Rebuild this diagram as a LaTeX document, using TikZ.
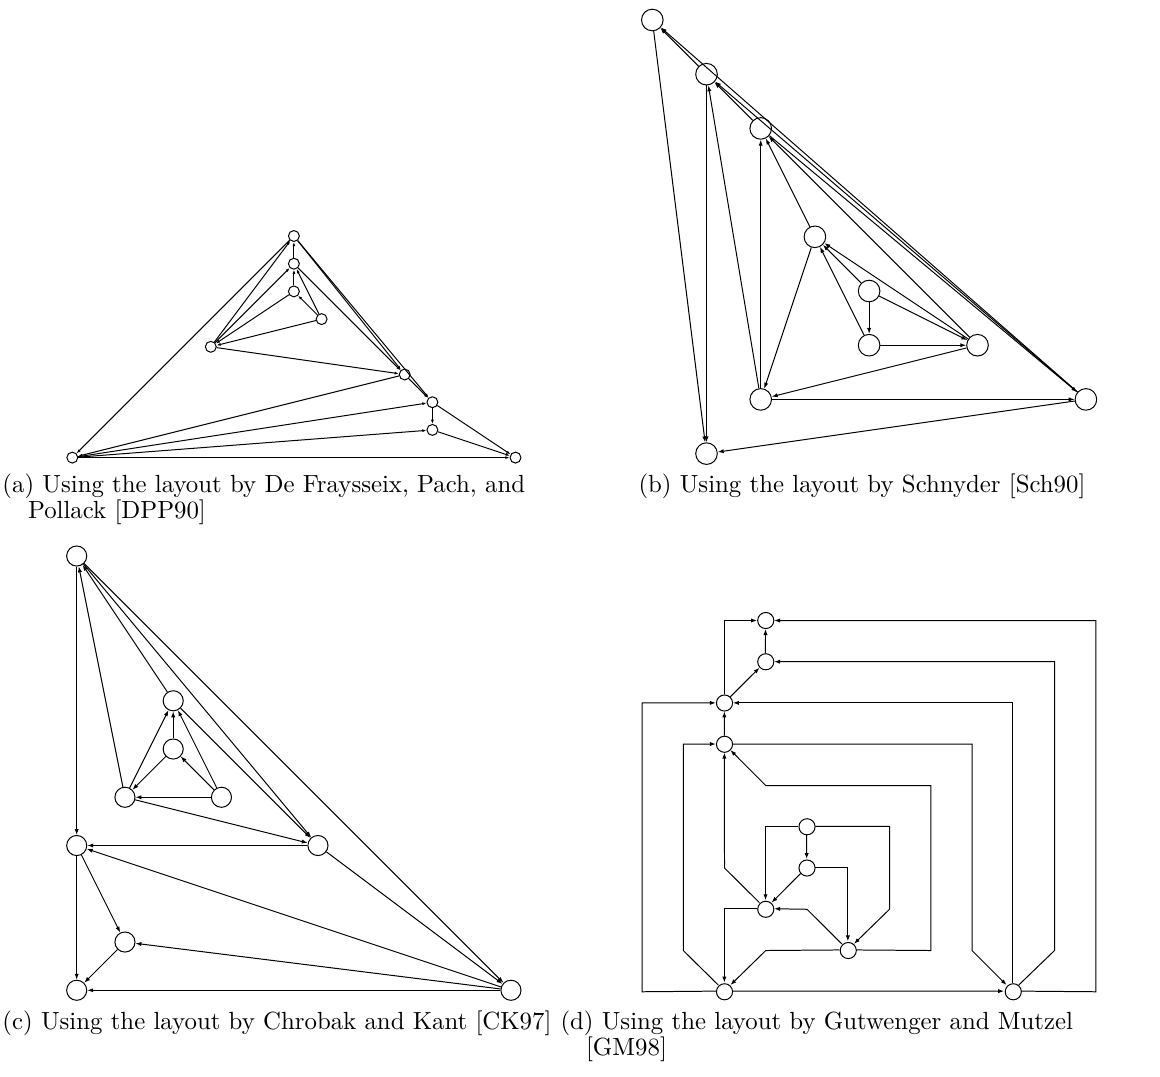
\documentclass[tikz,border=0pt]{standalone}
\usepackage{tikz}
\usetikzlibrary{arrows.meta}

% the directed graph shared by all four layouts (source/target)
\newcommand\arclist{2/1,3/2,3/1,10/1,10/2,10/3,4/10,9/3,9/4,4/3,7/4,8/4,5/8,5/6,5/7,6/7,6/8,8/7,7/9,8/9,9/10}

\begin{document}
\begin{tikzpicture}[
  x=0.403pt, y=-0.403pt,
  vtx/.style={circle, draw, fill=white, inner sep=0pt, line width=0.4pt},
  edge/.style={line width=0.4pt, -{Latex[length=2.4pt, width=1.7pt]}},
  tiny edge/.style={line width=0.4pt, -{Latex[length=1.7pt, width=1.2pt]}},
  captext/.style={inner sep=0pt, anchor=base west, font=\fontsize{10}{10.3}\selectfont},
]
\useasboundingbox (0,0) rectangle (1160,1076);

% (a) De Fraysseix, Pach, Pollack
\begin{scope}[shift={(72.3,236)}, scale=27.7, every node/.style={vtx, minimum size=4.4pt}]
  \node (a9) at (8,0) {};
  \node (a7) at (8,1) {};
  \node (a6) at (8,2) {};
  \node (a5) at (9,3) {};
  \node (a8) at (5,4) {};
  \node (a4) at (12,5) {};
  \node (a3) at (13,6) {};
  \node (a2) at (13,7) {};
  \node (a10) at (0,8) {};
  \node (a1) at (16,8) {};
\end{scope}
\foreach \s/\t in \arclist { \draw[tiny edge] (a\s) -- (a\t); }

% (b) Schnyder
\begin{scope}[shift={(652.3,20)}, scale=54.2, every node/.style={vtx, minimum size=8.7pt}]
  \node (b2) at (0,0) {};
  \node (b3) at (1,1) {};
  \node (b4) at (2,2) {};
  \node (b7) at (3,4) {};
  \node (b5) at (4,5) {};
  \node (b6) at (4,6) {};
  \node (b8) at (6,6) {};
  \node (b9) at (2,7) {};
  \node (b10) at (8,7) {};
  \node (b1) at (1,8) {};
\end{scope}
\foreach \s/\t in \arclist { \draw[edge] (b\s) -- (b\t); }

% (c) Chrobak and Kant
\begin{scope}[shift={(76.7,556)}, scale=48.25, every node/.style={vtx, minimum size=8.1pt}]
  \node (c9) at (0,0) {};
  \node (c7) at (2,3) {};
  \node (c6) at (2,4) {};
  \node (c8) at (1,5) {};
  \node (c5) at (3,5) {};
  \node (c4) at (5,6) {};
  \node (c3) at (0,6) {};
  \node (c2) at (1,8) {};
  \node (c1) at (0,9) {};
  \node (c10) at (9,9) {};
\end{scope}
\foreach \s/\t in \arclist { \draw[edge] (c\s) -- (c\t); }

% (d) Gutwenger and Mutzel, orthogonal
\begin{scope}[shift={(642,620.5)}, scale=41.25]
  \foreach \n/\pos in {1/{(3,0)},2/{(3,1)},3/{(2,2)},4/{(2,3)},5/{(4,5)},
                       6/{(4,6)},7/{(3,7)},8/{(5,8)},9/{(2,9)},10/{(9,9)}}
    \node[vtx, minimum size=6.5pt] (d\n) at \pos {};

  \draw[edge] (d2) -- (d1);
  \draw[edge] (d3) -- (d2);
  \draw[edge] (d3) |- (d1);
  \draw[edge] (d10) -- (11,9) |- (d1);
  \draw[edge] (d10) -- (10,8) |- (d2);
  \draw[edge] (d10) |- (d3);
  \draw[edge] (d4) -| (8,8) -- (d10);
  \draw[edge] (d9) -- (0,9) |- (d3);
  \draw[edge] (d9) -- (1,8) |- (d4);
  \draw[edge] (d4) -- (d3);
  \draw[edge] (d7) -- (2,6) -- (d4);
  \draw[edge] (d8) -- (7,8) |- (3,4) -- (d4);
  \draw[edge] (d5) -| (6,7) -- (d8);
  \draw[edge] (d5) -- (d6);
  \draw[edge] (d5) -| (d7);
  \draw[edge] (d6) -- (d7);
  \draw[edge] (d6) -| (d8);
  \draw[edge] (d8) -- (4,7) -- (d7);
  \draw[edge] (d7) -| (d9);
  \draw[edge] (d8) -- (3,8) -- (d9);
  \draw[edge] (d9) -- (d10);
\end{scope}

% captions
\node[captext] (capa) at (2,492) {\begin{tabular}[t]{@{}l@{}}(a) Using the layout by De Fraysseix, Pach, and\\\hspace{10.3pt}Pollack [DPP90]\end{tabular}};
\node[captext] (capb) at (638,492) {(b) Using the layout by Schnyder [Sch90]};
\node[captext] (capc) at (2,1029) {(c) Using the layout by Chrobak and Kant [CK97]};
\node[captext] (capd) at (560,1029) {\begin{tabular}[t]{@{}l@{}}(d) Using the layout by Gutwenger and Mutzel\\\hspace{10.3pt}[GM98]\end{tabular}};
\end{tikzpicture}
\end{document}
